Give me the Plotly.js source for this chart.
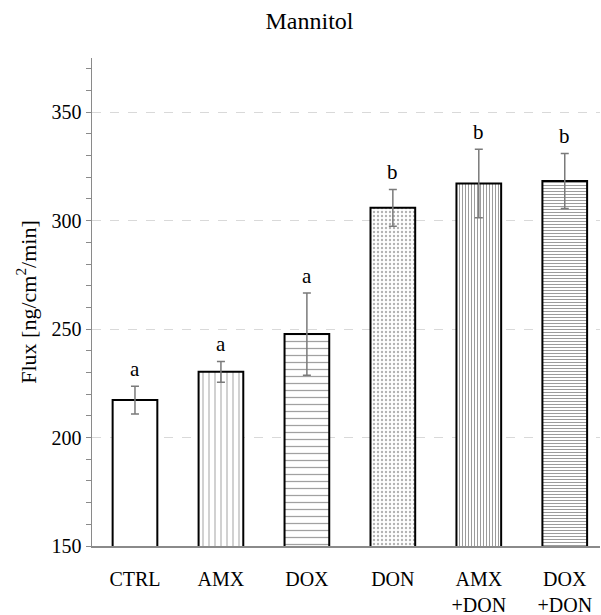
<!DOCTYPE html>
<html>
<head>
<meta charset="utf-8">
<script src="https://cdn.plot.ly/plotly-3.0.1.min.js"></script>
<style>html,body{margin:0;padding:0;background:#fff;}#chart{width:601px;height:615px;}</style>
</head>
<body>
<div id="chart"></div>
<script>
const categories = ["CTRL", "AMX", "DOX", "DON", "AMX<br>+DON", "DOX<br>+DON"];
const fluxValues = [217.3, 230.3, 247.7, 305.9, 317.1, 318.3];
const fluxErrors = [6.4, 4.8, 19.0, 8.5, 15.8, 12.7];
const groupLetters = ["a", "a", "a", "b", "b", "b"];
const patternShapes = ["", "|", "-", ".", "|", "-"];
const patternSizes = [8, 6, 7, 4, 3, 3];
const patternColors = ["#000", "#555", "#444", "#666", "#222", "#222"];
const patternSolidity = [0.3, 0.18, 0.18, 0.28, 0.3, 0.3];

const serif = "Liberation Serif, DejaVu Serif, serif";

const trace = {
  type: "bar",
  x: categories,
  y: fluxValues,
  width: 0.52,
  marker: {
    color: "#ffffff",
    line: {color: "#000000", width: 2},
    pattern: {
      shape: patternShapes,
      size: patternSizes,
      fgcolor: patternColors,
      bgcolor: "#ffffff",
      solidity: patternSolidity,
      fillmode: "overlay"
    }
  },
  error_y: {
    type: "data",
    array: fluxErrors,
    visible: true,
    color: "#7a7a7a",
    thickness: 1.5,
    width: 4
  },
  hoverinfo: "none"
};

const annotations = categories.map((c, i) => ({
  x: c,
  y: fluxValues[i] + fluxErrors[i],
  text: groupLetters[i],
  showarrow: false,
  yanchor: "bottom",
  yshift: 3,
  font: {family: serif, size: 21, color: "#000"}
}));

const layout = {
  width: 601,
  height: 615,
  margin: {l: 92, r: 1, t: 58, b: 69},
  paper_bgcolor: "#ffffff",
  plot_bgcolor: "#ffffff",
  showlegend: false,
  title: {
    text: "Mannitol",
    x: 0.515,
    xanchor: "center",
    xref: "container",
    y: 0.966,
    yanchor: "middle",
    font: {family: serif, size: 24, color: "#000"}
  },
  xaxis: {
    type: "category",
    range: [-0.5, 5.41],
    showline: true,
    linecolor: "#8a8a8a",
    linewidth: 1.5,
    ticks: "",
    ticklabelstandoff: 14,
    tickfont: {family: serif, size: 20, color: "#000"},
    showgrid: false,
    zeroline: false,
    fixedrange: true
  },
  yaxis: {
    range: [150, 375],
    tickvals: [150, 200, 250, 300, 350],
    ticktext: ["150", "200", "250", "300", "350"],
    showline: true,
    linecolor: "#8a8a8a",
    linewidth: 1.5,
    ticks: "outside",
    ticklen: 5,
    tickcolor: "#8a8a8a",
    tickwidth: 1,
    minor: {dtick: 10, tick0: 150, ticks: "outside", ticklen: 5, tickcolor: "#8a8a8a", tickwidth: 1, showgrid: false},
    showgrid: true,
    gridcolor: "#d9d9d9",
    griddash: "dash",
    gridwidth: 1,
    zeroline: false,
    tickfont: {family: serif, size: 20, color: "#000"},
    title: {
      text: "Flux [ng/cm<sup>2</sup>/min]",
      font: {family: serif, size: 22, color: "#000"},
      standoff: 9
    },
    fixedrange: true
  },
  annotations: annotations
};

Plotly.newPlot("chart", [trace], layout, {displayModeBar: false, staticPlot: true});
</script>
</body>
</html>
